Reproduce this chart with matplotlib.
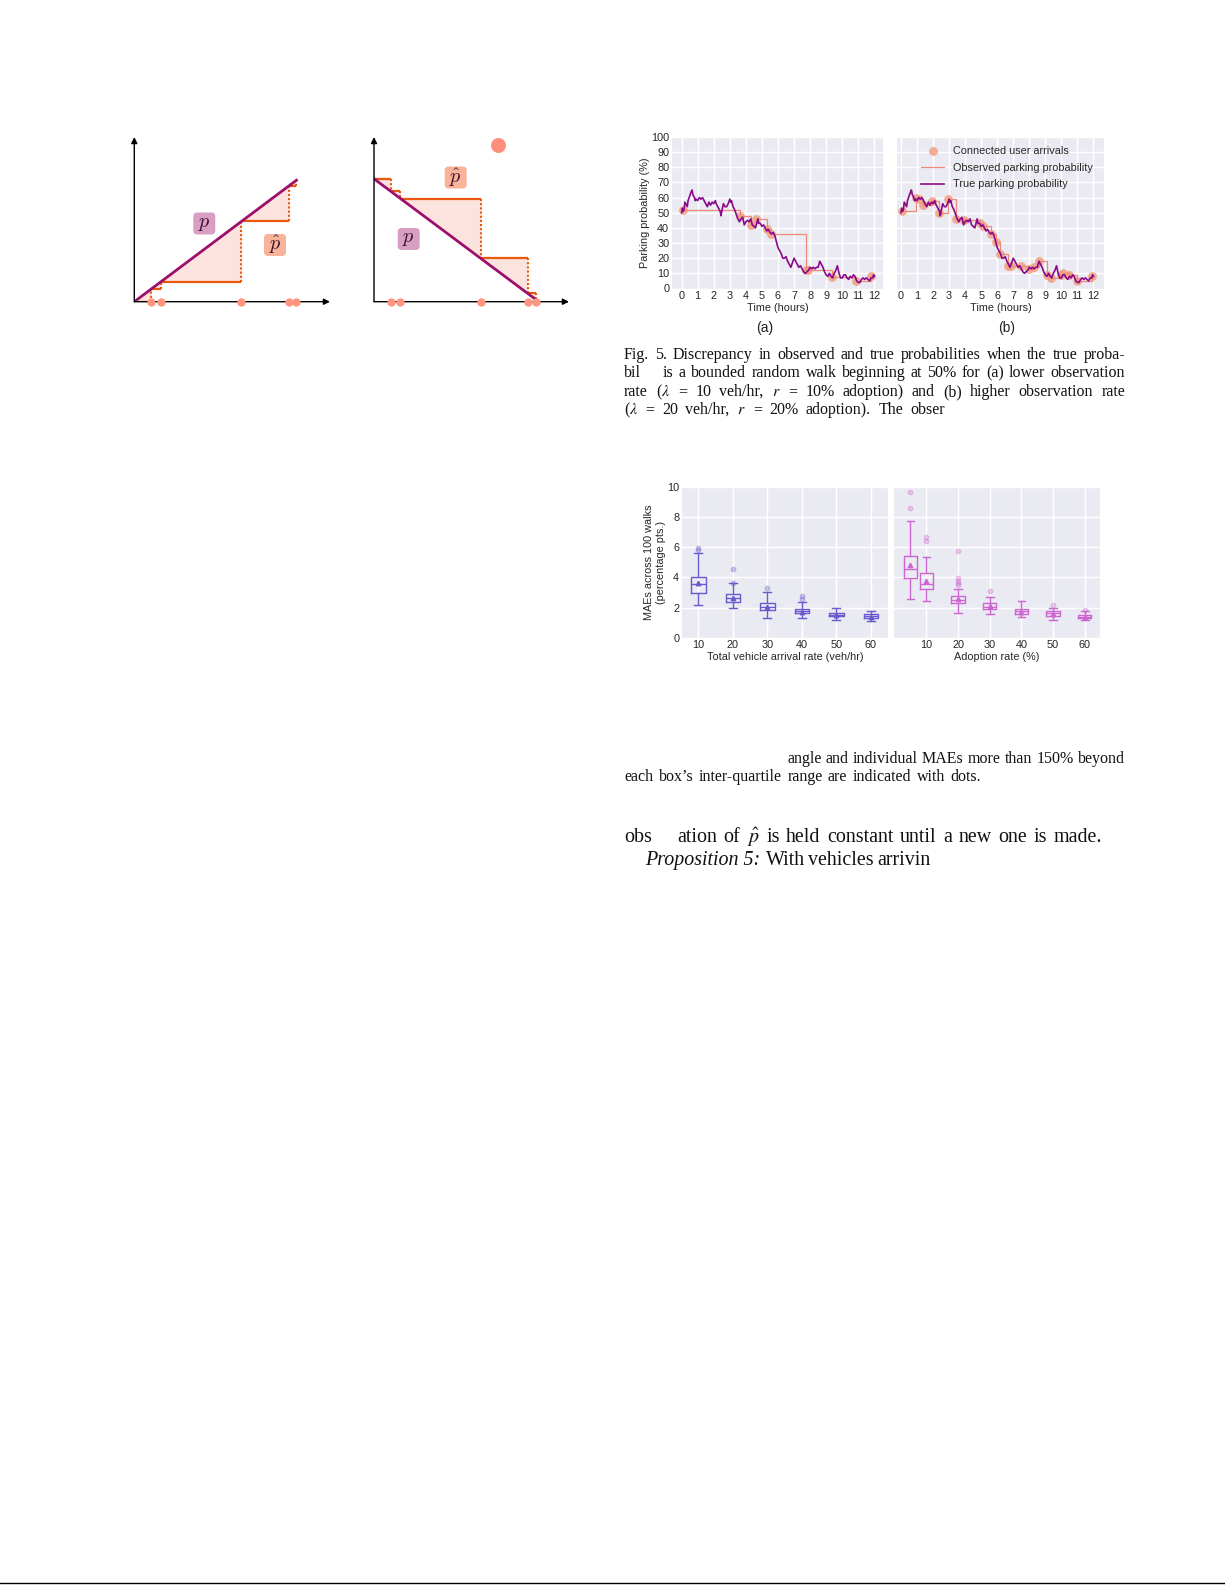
import matplotlib
matplotlib.use('Agg')
import matplotlib.pyplot as plt
from matplotlib.patches import FancyBboxPatch
from matplotlib.transforms import IdentityTransform

W = 1225
H = 1585

plt.rcParams['font.family'] = ['Liberation Sans', 'DejaVu Sans']
plt.rcParams['mathtext.fontset'] = 'cm'

# ---------- data ----------
# true parking probability, same walk in both panels
walk_t = [0, .05, .1, .15, .2, .3, .35, .4, .5, .6, .65, .7, .8, .85, .9, 1.0, 1.1, 1.2, 1.3, 1.4,
          1.5, 1.6, 1.7, 1.8, 1.9, 2.0, 2.1, 2.15, 2.3, 2.4, 2.45, 2.5, 2.6, 2.7, 2.8, 2.9, 3, 3.05, 3.1, 3.2,
          3.3, 3.4, 3.5, 3.6, 3.7, 3.8, 3.9, 4, 4.1, 4.2, 4.3, 4.4, 4.5, 4.6, 4.7, 4.75, 4.8, 4.9, 5, 5.1,
          5.2, 5.3, 5.4, 5.5, 5.6, 5.7, 5.8, 5.9, 6, 6.1, 6.2, 6.3, 6.4, 6.5, 6.6, 6.7, 6.8, 6.9, 7, 7.1,
          7.2, 7.3, 7.4, 7.5, 7.6, 7.7, 7.8, 7.9, 8, 8.1, 8.2, 8.3, 8.4, 8.5, 8.6, 8.7, 8.8, 8.9, 9, 9.1,
          9.2, 9.3, 9.4, 9.5, 9.6, 9.7, 9.8, 9.9, 10, 10.1, 10.2, 10.3, 10.4, 10.5, 10.6, 10.7, 10.8, 10.9, 11, 11.1,
          11.2, 11.3, 11.4, 11.5, 11.6, 11.7, 11.8, 11.9, 11.95, 12]
walk_p = [50, 53, 51, 52, 57, 55, 54, 58, 61, 64, 65, 62, 60, 58, 59, 58, 60, 59, 60, 58,
          56, 54, 57, 55, 57, 56, 58, 56, 53, 51, 48, 51, 56, 54, 54, 56, 59, 57, 58, 54,
          52, 49, 46, 44, 46, 47, 42, 44, 45, 44, 46, 42, 41, 40, 44, 46, 43, 43, 41, 42,
          40, 38, 39, 37, 36, 37, 35, 31, 27, 25, 23, 20, 20, 21, 18, 16, 14, 17, 20, 18,
          16, 14, 15, 13, 11, 10, 11, 12, 14, 13, 14, 13, 14, 14, 18, 16, 14, 11, 9, 8,
          10, 8, 7, 10, 12, 15, 10, 7, 7, 9, 9, 7, 6, 8, 7, 9, 8, 5, 4, 4,
          6, 7, 6, 7, 6, 5, 7, 7, 9, 8]

arrive_a_t = [0.1, 3.65, 4.35, 4.6, 5.3, 5.55, 7.75, 7.9, 9.35, 10.85, 11.8]
arrive_a_p = [52, 48, 42, 46, 39, 36, 12, 12, 7.5, 5, 8]

arrive_b_t = [0.05, 0.95, 1.1, 1.4, 1.95, 2.35, 2.95, 3.4, 3.95, 4.9, 5.1, 5.6, 5.9, 6.2,
              6.7, 6.85, 7.5, 8.0, 8.3, 8.6, 9.1, 9.35, 10.0, 10.1, 10.5, 11.0, 11.9]
arrive_b_p = [51, 60, 59, 55, 58, 50, 59, 46, 45, 43, 41, 36, 31, 23,
              15, 15, 15, 13, 14, 18, 9, 7, 9, 10, 9, 5, 8]

hours = list(range(13))
prob_ticks = list(range(0, 101, 10))

# boxes: whislo, q1, med, q3, whishi, mean, fliers
rates = [1, 2, 3, 4, 5, 6]
rate_labels = ['10', '20', '30', '40', '50', '60']
rate_boxes = [
    (2.14, 2.94, 3.55, 4.00, 5.58, 3.62, [5.92, 5.80]),
    (1.94, 2.34, 2.65, 2.87, 3.60, 2.63, [4.53, 3.64]),
    (1.28, 1.81, 2.03, 2.27, 3.00, 2.05, [3.29]),
    (1.28, 1.61, 1.77, 1.92, 2.34, 1.72, [2.74, 2.56]),
    (1.15, 1.41, 1.52, 1.66, 1.94, 1.50, []),
    (1.08, 1.28, 1.41, 1.55, 1.74, 1.39, []),
]
adoption = [0.5, 1, 2, 3, 4, 5, 6]
adoption_boxes = [
    (2.54, 3.93, 4.52, 5.43, 7.70, 4.81, [9.67, 8.56]),
    (2.40, 3.20, 3.58, 4.26, 5.32, 3.75, [6.64, 6.38]),
    (1.61, 2.27, 2.50, 2.74, 3.20, 2.56, [5.72, 3.97, 3.77, 3.64, 3.50]),
    (1.55, 1.90, 2.03, 2.32, 2.67, 2.10, [3.09]),
    (1.35, 1.59, 1.74, 1.92, 2.40, 1.72, []),
    (1.15, 1.46, 1.61, 1.74, 2.00, 1.59, [2.18]),
    (1.15, 1.28, 1.37, 1.48, 1.74, 1.37, [1.85]),
]
mae_ticks = [0, 2, 4, 6, 8, 10]

# sketches on the left: arrivals as fraction of the horizontal run
sketch_up_t = [0.103, 0.164, 0.661, 0.953, 1.0]
sketch_down_t = [0.103, 0.164, 0.661, 0.951, 1.0]

# ---------- helpers ----------
fig = plt.figure(figsize=(W / 100, H / 100), dpi=100, facecolor='white')


def make_ax(left, top, right, bottom):
    return fig.add_axes([left / W, 1 - bottom / H, (right - left) / W, (bottom - top) / H])


def px_text(x, y, s, **kw):
    return fig.text(x / W, 1 - y / H, s, **kw)


def line_text(tokens, x0, x1, y, size, justify=True, **kw):
    # lay words out one by one so the line fills x0..x1
    r = fig.canvas.get_renderer()
    items = [px_text(0, y, t, fontsize=size, family='Liberation Serif', va='baseline',
                     math_fontfamily='stix', color='#111111', **kw) for t in tokens]
    widths = [it.get_window_extent(r).width for it in items]
    if justify and len(items) > 1:
        gap = (x1 - x0 - sum(widths)) / (len(items) - 1)
    else:
        gap = size * 0.35
    x = x0
    for it, w in zip(items, widths):
        it.set_x(x / W)
        x = x + w + gap


def style_panel(ax):
    ax.set_facecolor('#EAEAF2')
    ax.grid(True, color='white', linewidth=1.0)
    ax.set_axisbelow(True)
    for s in ax.spines.values():
        s.set_visible(False)
    ax.tick_params(length=0, labelsize=7.8, colors='#262626', pad=2)


def walk_panel(ax, arr_t, arr_p):
    style_panel(ax)
    a = ax.scatter(arr_t, arr_p, s=40, color='#F0A080', alpha=0.85, zorder=2, linewidths=0,
                   label='Connected user arrivals')
    b, = ax.step([0] + arr_t + [12], [arr_p[0]] + arr_p + [arr_p[-1]], where='post', color='#F08A78',
                 linewidth=0.9, zorder=3, label='Observed parking probability')
    c, = ax.plot(walk_t, walk_p, color='#8B0A8B', linewidth=1.2, zorder=4, label='True parking probability')
    ax.set_ylim(0, 100)
    ax.set_xticks(hours)
    ax.set_yticks(prob_ticks)
    ax.set_xlabel('Time (hours)', fontsize=7.8, color='#262626', labelpad=1.5)
    return a, b, c


def box_panel(ax, positions, boxes, colour, labels, xlabel):
    style_panel(ax)
    stats = []
    for whislo, q1, med, q3, whishi, mean, fl in boxes:
        stats.append({'whislo': whislo, 'q1': q1, 'med': med, 'q3': q3, 'whishi': whishi,
                      'mean': mean, 'fliers': fl})
    line = dict(color=colour, linewidth=1.0)
    ax.bxp(stats, positions=positions, widths=0.42, capwidths=0.24, showmeans=True,
           boxprops=line, whiskerprops=line, capprops=line, medianprops=line,
           meanprops=dict(marker='^', markersize=3.2, markerfacecolor=colour, markeredgecolor=colour),
           flierprops=dict(marker='o', markersize=3.2, markerfacecolor=colour, markeredgecolor=colour,
                           alpha=0.3), manage_ticks=False)
    ax.set_ylim(0, 10)
    ax.set_yticks(mae_ticks)
    ax.set_xticks(rates)
    ax.set_xticklabels(labels)
    ax.set_xlabel(xlabel, fontsize=7.8, color='#262626', labelpad=1)


def sketch(ax, t_list, rising, y_max, t_max):
    ax.set_axis_off()
    ax.set_xlim(0, t_max)
    ax.set_ylim(0, y_max)
    if rising:
        p = lambda t: t
    else:
        p = lambda t: 1.02 - t
    edges = [0] + t_list
    for i in range(len(t_list)):
        t0, t1 = edges[i], edges[i + 1]
        ax.fill_between([t0, t1], [p(t0), p(t0)], [p(t0), p(t1)], color='#FDE3DE', linewidth=0, zorder=1)
        ax.plot([t0, t1], [p(t0), p(t0)], color='#E8590C', linewidth=1.6, zorder=2, solid_capstyle='butt')
        ax.plot([t1, t1], [p(t0), p(t1)], color='#E8590C', linewidth=1.5, linestyle=(0, (1, 1)), zorder=2)
    ax.plot([0, 1], [p(0), p(1)], color='#9C0F6B', linewidth=2.0, zorder=3)
    arrow = dict(arrowstyle='-|>', color='black', linewidth=1.0, shrinkA=0, shrinkB=0, mutation_scale=9)
    ax.annotate('', xy=(t_max, 0), xytext=(0, 0), arrowprops=arrow, zorder=4)
    ax.annotate('', xy=(0, y_max), xytext=(0, 0), arrowprops=arrow, zorder=4)
    ax.plot(t_list, [0] * len(t_list), 'o', color='#FF9580', markersize=6, markeredgewidth=0,
            clip_on=False, zorder=5)


def tag(x, y, s, colour):
    # square rounded label, figure is saved at its own dpi so these are plain pixels
    box = FancyBboxPatch((x - 8, H - y - 8), 16, 16, boxstyle='round,pad=3,rounding_size=4', facecolor=colour,
                         edgecolor='none', transform=IdentityTransform(), zorder=6)
    fig.add_artist(box)
    px_text(x, y, s, fontsize=14.5, ha='center', va='center', color='#3a1030', math_fontfamily='cm', zorder=7)


# ---------- left sketches ----------
ax_up = make_ax(134.3, 137, 330, 301.7)
sketch(ax_up, sketch_up_t, True, 1.356, 1.207)
tag(204.3, 223.5, r'$p$', '#D89FC3')
tag(275, 245, r'$\hat{p}$', '#F8B39A')

ax_down = make_ax(374, 137, 569, 301.7)
sketch(ax_down, sketch_down_t, False, 1.367, 1.207)
tag(455.7, 177.5, r'$\hat{p}$', '#F8B39A')
tag(408.7, 239, r'$p$', '#D89FC3')
ax_down.plot([0.765], [1.298], 'o', color='#FF8F7C', markersize=10.8, markeredgewidth=0, clip_on=False)

# ---------- walk panels ----------
ax_a = make_ax(672, 137, 883, 288.5)
walk_panel(ax_a, arrive_a_t, arrive_a_p)
ax_a.set_xlim(-0.6, 12.54)
ax_a.set_ylabel('Parking probability (%)', fontsize=7.8, color='#262626', labelpad=0.5)

ax_b = make_ax(896.7, 137, 1104, 288.5)
hs = walk_panel(ax_b, arrive_b_t, arrive_b_p)
ax_b.set_xlim(-0.27, 12.66)
ax_b.set_yticklabels([])
ax_b.legend(handles=list(hs), loc='upper right', frameon=False, fontsize=7.8, labelcolor='#262626',
            bbox_to_anchor=(0.966, 0.97), handlelength=2.1, labelspacing=0.62, handletextpad=0.8,
            borderaxespad=0)

px_text(765, 328, '(a)', fontsize=10, ha='center', va='center', color='#222222')
px_text(1007, 328, '(b)', fontsize=10, ha='center', va='center', color='#222222')

# ---------- box panels ----------
ax_c = make_ax(682, 486.7, 888, 637.7)
box_panel(ax_c, rates, rate_boxes, '#6A5ACD', rate_labels, 'Total vehicle arrival rate (veh/hr)')
ax_c.set_xlim(0.528, 6.5)
ax_c.set_ylabel('MAEs across 100 walks\n(percentage pts.)', fontsize=7.8, color='#262626', labelpad=1,
                linespacing=1.25)

ax_d = make_ax(894, 486.7, 1100, 637.7)
box_panel(ax_d, adoption, adoption_boxes, '#CC66D0', rate_labels, 'Adoption rate (%)')
ax_d.set_xlim(-0.02, 6.48)
ax_d.set_yticklabels([])

# ---------- page text ----------
fig.canvas.draw()
cap = 11.5
line_text('Fig. 5.  Discrepancy in observed and true probabilities when the true proba-'.split(), 624, 1125, 359, cap)
px_text(624, 377, 'bil', fontsize=cap, family='Liberation Serif', va='baseline', color='#111111')
line_text('is a bounded random walk beginning at 50% for (a) lower observation'.split(), 663, 1125, 377, cap)
line_text(['rate', r'($\lambda$', '=', '10', 'veh/hr,', r'$r$', '=', '10%', 'adoption)', 'and', '(b)', 'higher',
           'observation', 'rate'], 624, 1125, 396, cap)
line_text([r'($\lambda$', '=', '20', 'veh/hr,', r'$r$', '=', '20%', 'adoption).', 'The', 'obser'], 624, 945, 414, cap)

line_text('angle and individual MAEs more than 150% beyond'.split(), 787, 1125, 763, cap)
line_text('each box’s inter-quartile range are indicated with dots.'.split(), 624, 981, 781, cap)

body = 14.4
px_text(624, 842, 'obs', fontsize=body, family='Liberation Serif', va='baseline', color='#111111')
line_text(['ation', 'of', r'$\hat{p}$', 'is', 'held', 'constant', 'until', 'a', 'new', 'one', 'is', 'made.'],
          677, 1102, 842, body)
px_text(645, 865, 'Proposition 5:', fontsize=body, family='Liberation Serif', style='italic', va='baseline',
        color='#111111')
line_text('With vehicles arrivin'.split(), 766, 930, 865, body)

# black rule along the bottom of the page
fig.add_artist(plt.Line2D([0, 1], [1 - 1583 / H, 1 - 1583 / H], color='black', linewidth=1.0))

fig.savefig('out.png', dpi=100)
